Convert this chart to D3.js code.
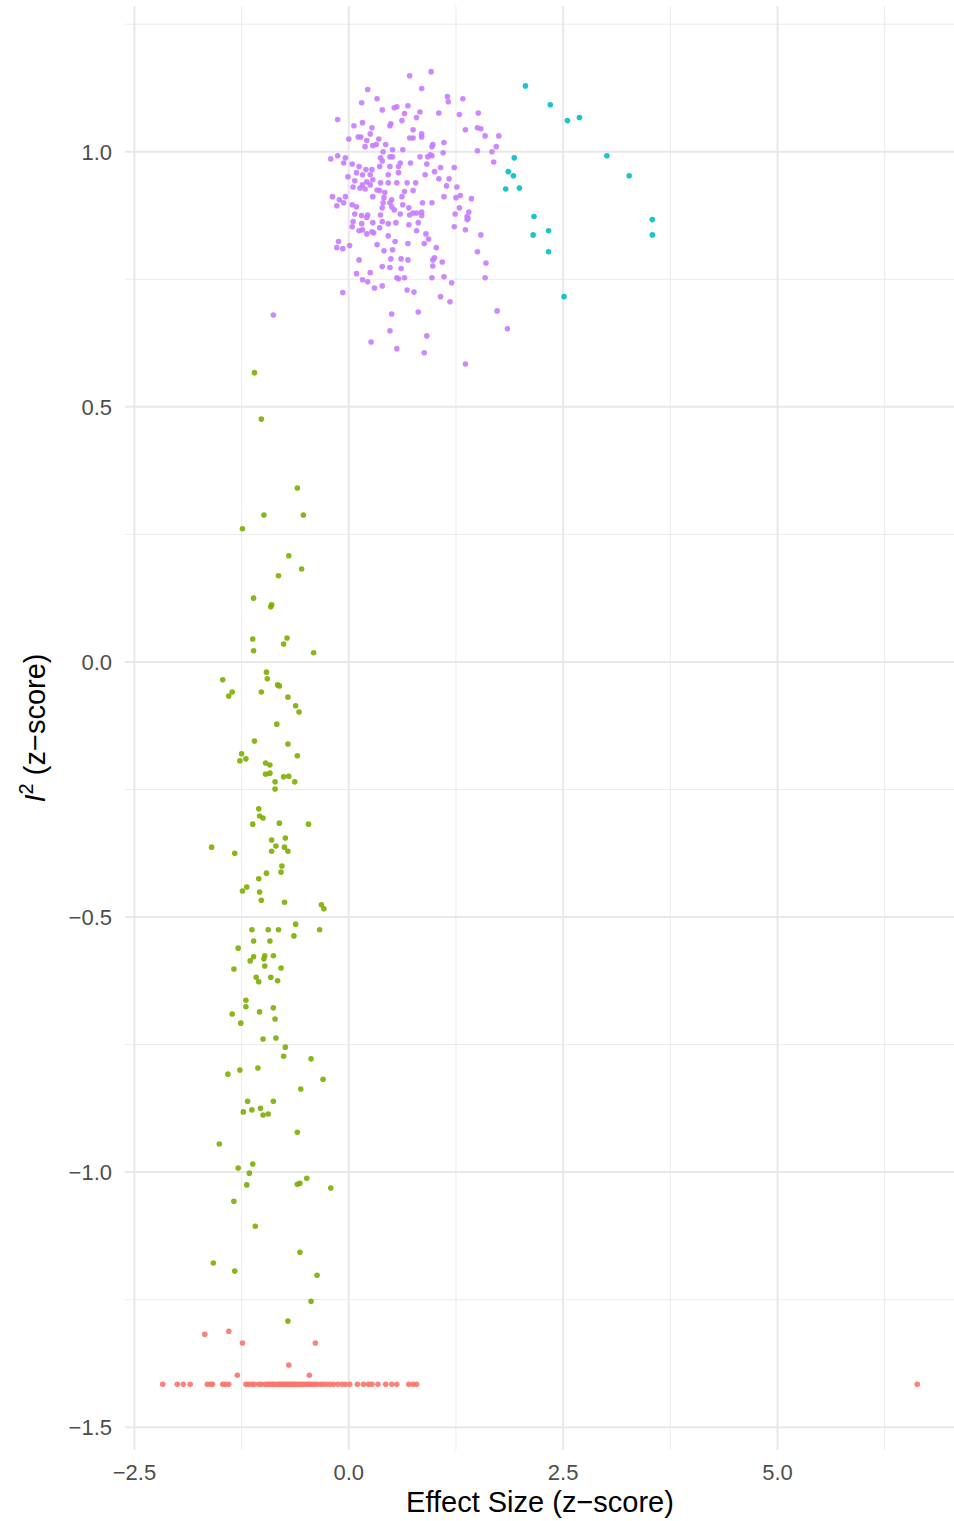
<!DOCTYPE html>
<html>
<head>
<meta charset="utf-8">
<script src="https://cdn.jsdelivr.net/npm/d3@7"></script>
<style>
  body { margin: 0; background: #fff; }
  svg { display: block; font-family: "Liberation Sans", Arial, Helvetica, sans-serif; }
</style>
</head>
<body>
<div id="chart"></div>
<script>
// cluster values, [effect size z, I^2 z]
var clusterRed = [
  [-1.68,-1.318],[-1.40,-1.312],[-1.24,-1.335],[-0.39,-1.335],[-0.70,-1.378],[-1.30,-1.398],[-0.46,-1.398],
  [-2.17,-1.416],[-2.00,-1.416],[-1.93,-1.416],[-1.85,-1.416],[-1.65,-1.416],[-1.61,-1.416],[-1.59,-1.416],
  [-1.47,-1.416],[-1.44,-1.416],[-1.40,-1.416],[-1.20,-1.416],[-1.17,-1.416],[-1.13,-1.416],[-1.10,-1.416],
  [-1.05,-1.416],[-1.02,-1.416],[-0.98,-1.416],[-0.95,-1.416],[-0.93,-1.416],[-0.90,-1.416],[-0.88,-1.416],
  [-0.86,-1.416],[-0.83,-1.416],[-0.81,-1.416],[-0.79,-1.416],[-0.77,-1.416],[-0.75,-1.416],[-0.73,-1.416],
  [-0.71,-1.416],[-0.69,-1.416],[-0.67,-1.416],[-0.65,-1.416],[-0.63,-1.416],[-0.61,-1.416],[-0.59,-1.416],
  [-0.56,-1.416],[-0.54,-1.416],[-0.51,-1.416],[-0.48,-1.416],[-0.46,-1.416],[-0.43,-1.416],[-0.40,-1.416],
  [-0.37,-1.416],[-0.33,-1.416],[-0.30,-1.416],[-0.26,-1.416],[-0.22,-1.416],[-0.18,-1.416],[-0.13,-1.416],
  [-0.08,-1.416],[-0.04,-1.416],[0.01,-1.416],[0.10,-1.416],[0.17,-1.416],[0.23,-1.416],[0.27,-1.416],
  [0.34,-1.416],[0.43,-1.416],[0.50,-1.416],[0.56,-1.416],[0.70,-1.416],[0.75,-1.416],[0.79,-1.416],
  [6.63,-1.416]
];

var clusterGreen = [
  [-1.10,0.567],[-1.02,0.476],[-0.60,0.341],[-0.99,0.288],[-0.53,0.288],[-1.24,0.261],[-0.70,0.208],
  [-0.55,0.182],[-0.82,0.169],[-1.11,0.125],[-0.91,0.108],[-0.90,0.112],[-1.12,0.045],[-0.72,0.047],
  [-0.76,0.035],[-1.11,0.022],[-0.41,0.018],[-0.96,-0.020],[-0.95,-0.033],[-1.47,-0.035],[-1.36,-0.059],
  [-1.40,-0.067],[-1.02,-0.059],[-0.83,-0.045],[-0.81,-0.047],[-0.71,-0.069],[-0.62,-0.086],[-0.58,-0.098],
  [-0.84,-0.122],[-1.10,-0.155],[-0.71,-0.161],[-0.60,-0.184],[-1.25,-0.180],[-1.20,-0.190],[-1.27,-0.194],
  [-0.97,-0.198],[-0.92,-0.202],[-0.97,-0.220],[-0.92,-0.218],[-0.86,-0.235],[-0.86,-0.249],[-0.76,-0.225],
  [-0.70,-0.224],[-0.63,-0.235],[-1.05,-0.288],[-1.04,-0.302],[-1.00,-0.306],[-1.12,-0.318],[-0.81,-0.316],
  [-0.47,-0.318],[-0.90,-0.349],[-0.74,-0.345],[-0.85,-0.361],[-0.90,-0.371],[-0.75,-0.363],[-0.71,-0.371],
  [-1.60,-0.363],[-1.33,-0.375],[-0.78,-0.400],[-0.79,-0.412],[-0.96,-0.414],[-1.05,-0.425],[-1.19,-0.441],
  [-1.24,-0.449],[-1.04,-0.451],[-1.02,-0.467],[-0.75,-0.471],[-0.32,-0.476],[-0.29,-0.484],[-0.62,-0.514],
  [-1.13,-0.525],[-0.94,-0.525],[-0.82,-0.525],[-0.34,-0.525],[-0.64,-0.537],[-1.11,-0.547],[-0.92,-0.547],
  [-1.29,-0.561],[-1.11,-0.578],[-1.15,-0.586],[-0.98,-0.576],[-0.99,-0.582],[-0.88,-0.576],[-0.98,-0.596],
  [-0.79,-0.600],[-1.34,-0.602],[-1.08,-0.618],[-1.05,-0.627],[-0.91,-0.618],[-0.83,-0.625],[-1.20,-0.663],
  [-1.20,-0.676],[-1.36,-0.690],[-1.04,-0.686],[-0.88,-0.678],[-0.86,-0.700],[-1.26,-0.708],[-1.00,-0.739],
  [-0.85,-0.737],[-0.74,-0.755],[-0.76,-0.773],[-0.44,-0.778],[-1.41,-0.808],[-1.27,-0.800],[-1.06,-0.796],
  [-0.30,-0.818],[-0.56,-0.837],[-1.18,-0.861],[-0.88,-0.861],[-1.23,-0.882],[-1.13,-0.878],[-1.03,-0.875],
  [-1.00,-0.888],[-0.94,-0.886],[-0.60,-0.922],[-1.51,-0.945],[-1.12,-0.984],[-1.29,-0.992],[-1.16,-1.002],
  [-1.19,-1.025],[-0.49,-1.012],[-0.60,-1.024],[-0.57,-1.022],[-0.21,-1.031],[-1.34,-1.057],[-1.09,-1.106],
  [-0.57,-1.157],[-1.58,-1.178],[-1.33,-1.194],[-0.37,-1.202],[-0.44,-1.253],[-0.71,-1.292]
];

var clusterCyan = [
  [2.06,1.129],[2.35,1.092],[2.55,1.061],[2.69,1.067],[1.93,0.988],[3.01,0.992],[1.86,0.961],
  [1.92,0.953],[3.27,0.953],[1.83,0.927],[1.99,0.929],[2.16,0.873],[3.54,0.867],[2.15,0.837],
  [2.33,0.845],[3.54,0.837],[2.33,0.804],[2.51,0.716]
];

var clusterPurple = [
  [0.71,1.149],[0.22,1.122],[0.15,1.096],[0.33,1.104],[0.39,1.082],[0.53,1.086],[0.56,1.088],[0.69,1.090],
  [0.65,1.075],[0.62,1.061],[0.49,1.055],[0.48,1.051],[-0.13,1.063],[0.06,1.051],[0.16,1.057],[0.27,1.047],
  [0.25,1.035],[0.11,1.029],[0.14,1.029],[0.00,1.025],[0.21,1.022],[0.35,1.025],[0.19,1.010],[0.28,1.012],
  [0.32,1.014],[0.43,1.014],[0.71,1.027],[0.75,1.027],[0.75,1.043],[0.79,1.067],[0.51,1.004],[0.63,1.004],
  [0.40,1.000],[0.48,0.990],[0.51,0.990],[0.37,0.988],[0.39,0.982],[0.60,0.978],[0.58,0.971],[0.72,0.978],
  [-0.21,0.986],[-0.13,0.992],[-0.04,0.988],[-0.06,0.978],[0.04,0.976],[0.12,0.971],[0.20,0.965],[0.27,0.965],
  [0.36,0.971],[0.48,0.971],[0.09,0.959],[0.16,0.955],[0.25,0.955],[0.28,0.945],[-0.01,0.951],[0.46,0.955],
  [0.58,0.959],[0.07,0.943],[0.16,0.935],[0.05,0.931],[0.21,0.941],[0.25,0.935],[0.37,0.939],[0.46,0.939],
  [0.56,0.939],[0.68,0.939],[0.78,0.939],[0.13,0.929],[0.19,0.927],[0.33,0.925],[0.36,0.924],[0.65,0.922],
  [0.75,0.924],[-0.19,0.912],[-0.11,0.906],[-0.04,0.912],[-0.06,0.900],[-0.14,0.894],[0.04,0.896],[0.09,0.892],
  [0.28,0.912],[0.42,0.920],[0.41,0.910],[0.50,0.906],[0.48,0.900],[0.40,0.900],[0.39,0.890],[0.62,0.912],
  [0.63,0.896],[0.70,0.890],[0.07,0.878],[0.15,0.875],[0.22,0.876],[0.21,0.871],[0.37,0.876],[0.50,0.892],
  [0.53,0.886],[0.60,0.878],[0.71,0.876],[0.75,0.880],[0.79,0.880],
  [0.96,1.157],[0.85,1.124],[1.15,1.108],[1.16,1.098],[1.33,1.104],[0.83,1.078],[1.05,1.076],[1.29,1.073],
  [1.51,1.076],[1.36,1.043],[1.50,1.047],[1.54,1.045],[1.59,1.031],[1.75,1.031],[0.85,1.035],[0.85,1.029],
  [0.98,1.014],[0.97,1.010],[1.11,1.018],[1.72,1.010],[1.50,1.002],[1.67,1.000],[0.95,0.994],[0.97,0.992],
  [0.92,0.990],[1.10,0.998],[0.83,0.990],[1.69,0.980],[0.91,0.976],[1.07,0.969],[1.23,0.969],[1.00,0.961],
  [0.89,0.955],[1.05,0.947],[1.17,0.947],[1.14,0.933],[1.26,0.931],[1.11,0.912],[1.25,0.910],[1.30,0.914],
  [1.43,0.908],[0.86,0.900],[0.97,0.900],[1.29,0.890],[0.85,0.882],[0.85,0.875],[1.24,0.878],[1.40,0.882],
  [1.38,0.873],[1.39,0.869],
  [0.05,0.863],[0.15,0.859],[0.28,0.861],[0.39,0.863],[0.46,0.859],[0.55,0.861],[0.70,0.857],[0.81,0.861],
  [0.04,0.853],[0.12,0.845],[0.16,0.847],[0.21,0.839],[0.27,0.843],[0.29,0.841],[0.36,0.851],[0.46,0.835],
  [0.79,0.845],[-0.12,0.824],[-0.14,0.812],[-0.07,0.810],[0.01,0.816],[0.33,0.818],[0.54,0.824],[0.69,0.820],
  [0.41,0.806],[0.51,0.808],[0.12,0.788],[0.49,0.790],[0.61,0.790],[0.69,0.788],[0.39,0.775],[0.48,0.773],
  [0.61,0.771],[0.09,0.761],[0.25,0.763],[0.16,0.749],[0.22,0.745],[0.56,0.753],[0.58,0.751],[0.65,0.753],
  [0.30,0.733],[0.39,0.737],[0.68,0.729],[0.76,0.725],[-0.07,0.724],[0.81,0.686],[0.50,0.682],[0.48,0.649],
  [0.26,0.627],[0.56,0.614],
  [1.23,0.853],[1.36,0.847],[1.38,0.867],[1.54,0.837],[0.90,0.839],[0.93,0.829],[0.88,0.820],[1.02,0.812],
  [1.00,0.792],[0.98,0.788],[0.98,0.776],[1.09,0.784],[1.50,0.804],[1.60,0.782],[0.97,0.753],[1.11,0.755],
  [1.20,0.743],[1.59,0.753],[1.07,0.716],[1.18,0.706],[1.73,0.688],[1.85,0.653],[0.91,0.639],[0.88,0.606],
  [1.36,0.584],[-0.88,0.680]
];

var clusters = ["red", "green", "cyan", "purple"];
var clusterColors = ["#F8766D", "#7CAE00", "#00BFC4", "#C77CFF"];
var clusterData = [clusterRed, clusterGreen, clusterCyan, clusterPurple];

var xMajor = [-2.5, 0, 2.5, 5];
var xMinor = [-1.25, 1.25, 3.75, 6.25];
var yMajor = [-1.5, -1, -0.5, 0, 0.5, 1];
var yMinor = [-1.25, -0.75, -0.25, 0.25, 0.75, 1.25];

var W = 954, H = 1521;
var panel = {left: 125, right: 955, top: 6, bottom: 1450};

var all = [].concat(clusterRed, clusterGreen, clusterCyan, clusterPurple);
var xExt = d3.extent(all, function (d) { return d[0]; });
var yExt = d3.extent(all, function (d) { return d[1]; });
var xPad = (xExt[1] - xExt[0]) * 0.05, yPad = (yExt[1] - yExt[0]) * 0.05;

var x = d3.scaleLinear().domain([xExt[0] - xPad, xExt[1] + xPad]).range([panel.left, panel.right]);
var y = d3.scaleLinear().domain([yExt[0] - yPad, yExt[1] + yPad]).range([panel.bottom, panel.top]);

var svg = d3.select("#chart").append("svg").attr("width", W).attr("height", H);

// grid
var grid = svg.append("g");
grid.selectAll(".xminor").data(xMinor).enter().append("line")
  .attr("x1", x).attr("x2", x).attr("y1", panel.top).attr("y2", panel.bottom)
  .attr("stroke", "#EBEBEB").attr("stroke-width", 1);
grid.selectAll(".yminor").data(yMinor).enter().append("line")
  .attr("y1", y).attr("y2", y).attr("x1", panel.left).attr("x2", panel.right)
  .attr("stroke", "#EBEBEB").attr("stroke-width", 1);
grid.selectAll(".xmajor").data(xMajor).enter().append("line")
  .attr("x1", x).attr("x2", x).attr("y1", panel.top).attr("y2", panel.bottom)
  .attr("stroke", "#E8E8E8").attr("stroke-width", 2);
grid.selectAll(".ymajor").data(yMajor).enter().append("line")
  .attr("y1", y).attr("y2", y).attr("x1", panel.left).attr("x2", panel.right)
  .attr("stroke", "#E8E8E8").attr("stroke-width", 2);

// points
clusterData.forEach(function (pts, i) {
  svg.append("g").attr("class", "cluster-" + clusters[i])
    .selectAll("circle").data(pts).enter().append("circle")
    .attr("cx", function (d) { return x(d[0]); })
    .attr("cy", function (d) { return y(d[1]); })
    .attr("r", 2.8)
    .attr("fill", clusterColors[i])
    .attr("fill-opacity", 0.9);
});

// axes (text only, theme_minimal has no lines)
var fmt = d3.format(".1f");
function minus(v) { return fmt(v).replace("-", "\u2212"); }

svg.append("g").selectAll("text").data(xMajor).enter().append("text")
  .attr("x", x).attr("y", 1480)
  .attr("text-anchor", "middle").attr("font-size", 22).attr("fill", "#4D4D4D")
  .text(minus);

svg.append("g").selectAll("text").data(yMajor).enter().append("text")
  .attr("x", 112).attr("y", function (d) { return y(d) + 8; })
  .attr("text-anchor", "end").attr("font-size", 22).attr("fill", "#4D4D4D")
  .text(minus);

svg.append("text").attr("x", (panel.left + panel.right) / 2).attr("y", 1512)
  .attr("text-anchor", "middle").attr("font-size", 29).attr("fill", "#000")
  .text("Effect Size (z\u2212score)");

var yt = svg.append("text")
  .attr("transform", "translate(45," + (panel.top + panel.bottom) / 2 + ") rotate(-90)")
  .attr("text-anchor", "middle").attr("font-size", 29).attr("fill", "#000");
yt.append("tspan").attr("font-style", "italic").text("I");
yt.append("tspan").attr("font-size", 20).attr("dy", -12).text("2");
yt.append("tspan").attr("dy", 12).text(" (z\u2212score)");
</script>
</body>
</html>
